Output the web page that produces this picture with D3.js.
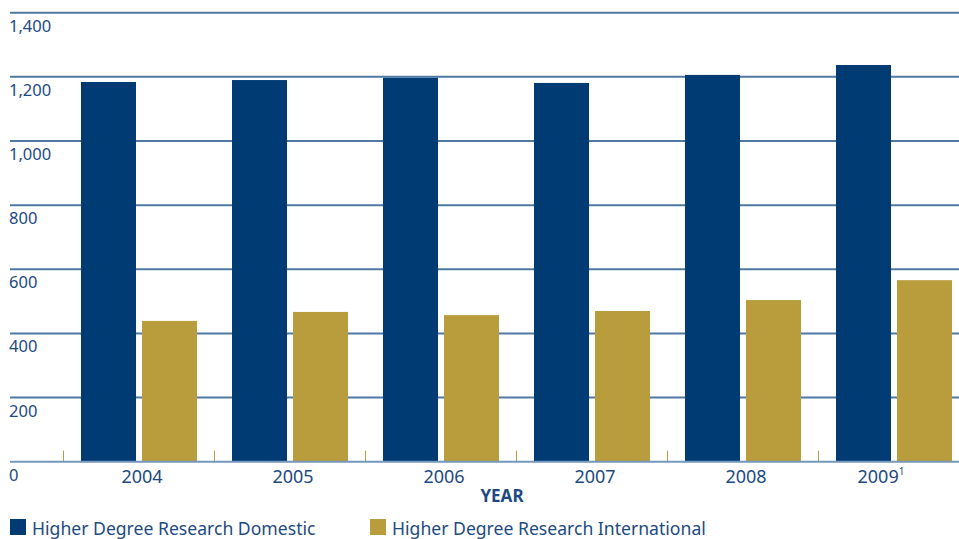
<!DOCTYPE html>
<html>
<head>
<meta charset="utf-8">
<script src="https://cdn.jsdelivr.net/npm/d3@7"></script>
<style>
  html, body { margin: 0; padding: 0; background: #fff; }
  svg { display: block; }
  text { font-family: "Noto Sans", "Open Sans", sans-serif; fill: #1d4a80; }
</style>
</head>
<body>
<svg id="chart" width="959" height="539"></svg>
<script>
// Higher degree research enrolments by year
const years = ["2004", "2005", "2006", "2007", "2008", "2009"];
const yearLabels = ["2004", "2005", "2006", "2007", "2008", "2009"];
const domestic = [1184, 1190, 1197, 1181, 1206, 1237];
const international = [439, 467, 457, 470, 504, 566];
const seriesNames = ["Higher Degree Research Domestic", "Higher Degree Research International"];
const seriesColors = ["#003b74", "#b99c3c"];
const yTicks = [0, 200, 400, 600, 800, 1000, 1200, 1400];

const svg = d3.select("#chart");
const plotLeft = 10, plotRight = 959;
const bandStart = 63, bandStep = 151;

const y = d3.scaleLinear().domain([0, 1400]).range([461.7, 12.7]);
const x = d3.scaleBand().domain(years).range([bandStart, bandStart + bandStep * years.length]).padding(0);
const xs = d3.scaleBand().domain([0, 1]).range([18, 134]).paddingInner(6 / 61).paddingOuter(0);

// horizontal gridlines
svg.append("g").selectAll("line")
  .data(yTicks.filter(t => t > 0))
  .join("line")
  .attr("x1", plotLeft).attr("x2", plotRight)
  .attr("y1", d => y(d)).attr("y2", d => y(d))
  .attr("stroke", "#4f78a3").attr("stroke-width", 2);

// tick labels under each gridline
svg.append("g").selectAll("text")
  .data(yTicks)
  .join("text")
  .attr("x", plotLeft - 1)
  .attr("y", d => y(d) + 19)
  .attr("font-size", 16.5)
  .text(d => d3.format(",")(d));

// bars
const rows = years.map((yr, i) => ({ yr, vals: [domestic[i], international[i]] }));
const groups = svg.append("g").selectAll("g")
  .data(rows)
  .join("g")
  .attr("transform", d => `translate(${x(d.yr)},0)`);

groups.selectAll("rect")
  .data(d => d.vals.map((v, k) => ({ v, k })))
  .join("rect")
  .attr("x", d => xs(d.k))
  .attr("width", xs.bandwidth())
  .attr("y", d => y(d.v))
  .attr("height", d => y(0) - y(d.v))
  .attr("fill", d => seriesColors[d.k]);

// small separators between year groups
svg.append("g").selectAll("line")
  .data(years)
  .join("line")
  .attr("x1", d => x(d) + 0.5).attr("x2", d => x(d) + 0.5)
  .attr("y1", y(0) - 11).attr("y2", y(0))
  .attr("stroke", "#b99c3c").attr("stroke-width", 1);

// baseline
svg.append("line")
  .attr("x1", plotLeft).attr("x2", plotRight)
  .attr("y1", y(0)).attr("y2", y(0))
  .attr("stroke", "#7596bd").attr("stroke-width", 2);

// year labels (the last one carries a footnote marker)
const xl = svg.append("g").selectAll("text")
  .data(years)
  .join("text")
  .attr("x", (d, i) => x(d) + 79 + (i === 5 ? -16 : 0))
  .attr("y", 483)
  .attr("text-anchor", "middle")
  .attr("font-size", 18);
xl.text((d, i) => yearLabels[i]);
xl.filter((d, i) => i === 5).append("tspan")
  .attr("font-size", 10).attr("dy", -8).text("1");

// axis title
svg.append("text")
  .attr("x", 502).attr("y", 502)
  .attr("text-anchor", "middle")
  .attr("font-size", 17).attr("font-weight", "bold")
  .text("YEAR");

// legend
const legendX = [10, 370];
const lg = svg.append("g").selectAll("g")
  .data(seriesNames)
  .join("g")
  .attr("transform", (d, i) => `translate(${legendX[i]},519)`);
lg.append("rect").attr("width", 16).attr("height", 16).attr("fill", (d, i) => seriesColors[i]);
lg.append("text").attr("x", 22).attr("y", 15.5).attr("font-size", 17.6).text(d => d);
</script>
</body>
</html>
